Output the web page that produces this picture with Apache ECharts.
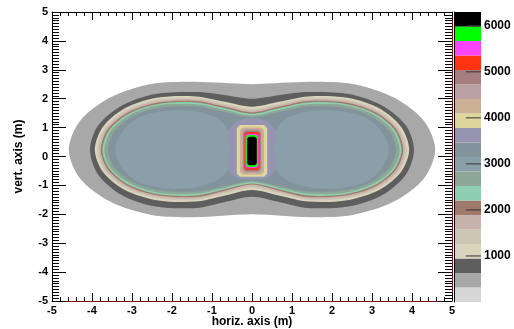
<!DOCTYPE html>
<html>
<head>
<meta charset="utf-8">
<script src="https://cdn.jsdelivr.net/npm/echarts@6/dist/echarts.min.js"></script>
<style>
  html, body { margin: 0; padding: 0; background: #fff; }
  #chart { width: 514px; height: 329px; }
</style>
</head>
<body>
<div id="chart"></div>
<script>
// contour levels (z) and palette colours, lowest first
const levels = [0, 315, 630, 945, 1260, 1575, 1890, 2205, 2520, 2835, 3150,
  3465, 3780, 4095, 4410, 4725, 5040, 5355, 5670, 5985, 6300]
const paletteColors = ['#d6d6d6', '#a8a8a8', '#5e5e5e', '#d9d4bb', '#cdc6b5', '#c7b3ab',
  '#9f7a6b', '#8dcfb0', '#8da797', '#8a9fa9', '#82939b', '#9595b2', '#ddd79d', '#cbb094',
  '#baa1a4', '#a77e7f', '#ff3311', '#ff44ff', '#00ff00', '#000000']
const barTicks = [1000, 2000, 3000, 4000, 5000, 6000]

// contour outlines, [x, y] in metres
const ringGray = [[-4.58,0.23],[-4.3,1.23],[-3.55,2.04],[-2.52,2.51],[-1.5,2.59],[-0.75,2.55],[0,2.5],[0.75,2.55],[1.5,2.59],[2.52,2.51],[3.55,2.04],[4.3,1.23],[4.58,0.23],[4.3,-0.76],[3.55,-1.56],[2.52,-2.02],[1.5,-2.1],[0.75,-2.05],[0,-2.0],[-0.75,-2.05],[-1.5,-2.1],[-2.52,-2.02],[-3.55,-1.56],[-4.3,-0.76]]
const ringDark = [[-4.05,0.23],[-3.85,1.07],[-3.26,1.76],[-2.42,2.16],[-1.4,2.23],[-0.7,2.13],[0,2.0],[0.7,2.13],[1.4,2.23],[2.42,2.16],[3.26,1.76],[3.85,1.07],[4.05,0.23],[3.85,-0.62],[3.26,-1.33],[2.42,-1.73],[1.4,-1.78],[0.7,-1.58],[0,-1.39],[-0.7,-1.58],[-1.4,-1.78],[-2.42,-1.73],[-3.26,-1.33],[-3.85,-0.62]]
const ringBeige = [[-3.93,0.23],[-3.73,1.02],[-3.19,1.66],[-2.39,2.03],[-1.4,2.08],[-0.7,1.9],[0,1.72],[0.7,1.9],[1.4,2.08],[2.39,2.03],[3.19,1.66],[3.73,1.02],[3.93,0.23],[3.73,-0.53],[3.19,-1.15],[2.39,-1.51],[1.4,-1.56],[0.7,-1.36],[0,-1.16],[-0.7,-1.36],[-1.4,-1.56],[-2.39,-1.51],[-3.19,-1.15],[-3.73,-0.53]]
const ringLightBeige = [[-3.87,0.23],[-3.68,0.99],[-3.15,1.61],[-2.37,1.97],[-1.4,2.02],[-0.7,1.83],[0,1.64],[0.7,1.83],[1.4,2.02],[2.37,1.97],[3.15,1.61],[3.68,0.99],[3.87,0.23],[3.68,-0.51],[3.15,-1.1],[2.37,-1.45],[1.4,-1.5],[0.7,-1.29],[0,-1.08],[-0.7,-1.29],[-1.4,-1.5],[-2.37,-1.45],[-3.15,-1.1],[-3.68,-0.51]]
const ringPink = [[-3.82,0.23],[-3.64,0.97],[-3.12,1.57],[-2.36,1.92],[-1.4,1.97],[-0.7,1.78],[0,1.58],[0.7,1.78],[1.4,1.97],[2.36,1.92],[3.12,1.57],[3.64,0.97],[3.82,0.23],[3.64,-0.49],[3.12,-1.07],[2.36,-1.4],[1.4,-1.45],[0.7,-1.24],[0,-1.02],[-0.7,-1.24],[-1.4,-1.45],[-2.36,-1.4],[-3.12,-1.07],[-3.64,-0.49]]
const ringBrown = [[-3.78,0.23],[-3.6,0.95],[-3.09,1.53],[-2.35,1.87],[-1.4,1.92],[-0.7,1.73],[0,1.53],[0.7,1.73],[1.4,1.92],[2.35,1.87],[3.09,1.53],[3.6,0.95],[3.78,0.23],[3.6,-0.46],[3.09,-1.03],[2.35,-1.35],[1.4,-1.4],[0.7,-1.19],[0,-0.97],[-0.7,-1.19],[-1.4,-1.4],[-2.35,-1.35],[-3.09,-1.03],[-3.6,-0.46]]
const ringMint = [[-3.74,0.23],[-3.56,0.93],[-3.07,1.49],[-2.34,1.82],[-1.4,1.87],[-0.7,1.68],[0,1.48],[0.7,1.68],[1.4,1.87],[2.34,1.82],[3.07,1.49],[3.56,0.93],[3.74,0.23],[3.56,-0.44],[3.07,-0.99],[2.34,-1.31],[1.4,-1.35],[0.7,-1.14],[0,-0.93],[-0.7,-1.14],[-1.4,-1.35],[-2.34,-1.31],[-3.07,-0.99],[-3.56,-0.44]]
const ringGreenGray = [[-3.69,0.23],[-3.52,0.9],[-3.03,1.45],[-2.33,1.77],[-1.4,1.81],[-0.7,1.62],[0,1.42],[0.7,1.62],[1.4,1.81],[2.33,1.77],[3.03,1.45],[3.52,0.9],[3.69,0.23],[3.52,-0.42],[3.03,-0.94],[2.33,-1.25],[1.4,-1.29],[0.7,-1.09],[0,-0.88],[-0.7,-1.09],[-1.4,-1.29],[-2.33,-1.25],[-3.03,-0.94],[-3.52,-0.42]]
const ringSlate = [[-3.6,0.23],[-3.44,0.87],[-2.98,1.39],[-2.3,1.69],[-1.4,1.73],[-0.7,1.55],[0,1.36],[0.7,1.55],[1.4,1.73],[2.3,1.69],[2.98,1.39],[3.44,0.87],[3.6,0.23],[3.44,-0.38],[2.98,-0.88],[2.3,-1.17],[1.4,-1.21],[0.7,-1.03],[0,-0.84],[-0.7,-1.03],[-1.4,-1.21],[-2.3,-1.17],[-2.98,-0.88],[-3.44,-0.38]]
const lobeLeft = [[-3.42,0.23],[-3.25,0.85],[-2.85,1.33],[-2.2,1.58],[-1.4,1.56],[-0.85,1.3],[-0.55,0.8],[-0.5,0.23],[-0.55,-0.35],[-0.85,-0.8],[-1.4,-1.06],[-2.2,-1.1],[-2.85,-0.88],[-3.25,-0.4]]
const lobeRight = [[3.42,0.23],[3.25,0.85],[2.85,1.33],[2.2,1.58],[1.4,1.56],[0.85,1.3],[0.55,0.8],[0.5,0.23],[0.55,-0.35],[0.85,-0.8],[1.4,-1.06],[2.2,-1.1],[2.85,-0.88],[3.25,-0.4]]
const neckLavender = [[0,1.34],[0.45,1.15],[0.62,0.75],[0.55,0.23],[0.6,-0.3],[0.45,-0.68],[0,-0.8],[-0.45,-0.68],[-0.6,-0.3],[-0.55,0.23],[-0.62,0.75],[-0.45,1.15]]
const peakYellow = [[-0.3,1.09],[0.3,1.09],[0.38,0.99],[0.38,-0.6],[0.3,-0.7],[-0.3,-0.7],[-0.38,-0.6],[-0.38,0.99]]
const peakTan = [[-0.23,1.0],[0.23,1.0],[0.3,0.91],[0.3,-0.53],[0.23,-0.62],[-0.23,-0.62],[-0.3,-0.53],[-0.3,0.91]]
const peakPinkGray = [[-0.19,0.95],[0.19,0.95],[0.25,0.87],[0.25,-0.48],[0.19,-0.56],[-0.19,-0.56],[-0.25,-0.48],[-0.25,0.87]]
const peakMauve = [[-0.16,0.9],[0.16,0.9],[0.22,0.83],[0.22,-0.45],[0.16,-0.52],[-0.16,-0.52],[-0.22,-0.45],[-0.22,0.83]]
const peakRed = [[-0.13,0.85],[0.13,0.85],[0.19,0.78],[0.19,-0.4],[0.13,-0.47],[-0.13,-0.47],[-0.19,-0.4],[-0.19,0.78]]
const peakMagenta = [[-0.11,0.79],[0.11,0.79],[0.165,0.73],[0.165,-0.35],[0.11,-0.41],[-0.11,-0.41],[-0.165,-0.35],[-0.165,0.73]]
const peakGreen = [[-0.09,0.74],[0.09,0.74],[0.145,0.68],[0.145,-0.3],[0.09,-0.36],[-0.09,-0.36],[-0.145,-0.3],[-0.145,0.68]]
const peakBlack = [[-0.07,0.68],[0.07,0.68],[0.12,0.62],[0.12,-0.24],[0.07,-0.3],[-0.07,-0.3],[-0.12,-0.24],[-0.12,0.62]]

// drawing order, band = index into paletteColors
const contours = [
  {band: 1, pts: ringGray, smooth: 0.3},
  {band: 2, pts: ringDark, smooth: 0.3},
  {band: 3, pts: ringBeige, smooth: 0.3},
  {band: 4, pts: ringLightBeige, smooth: 0.3},
  {band: 5, pts: ringPink, smooth: 0.3},
  {band: 6, pts: ringBrown, smooth: 0.3},
  {band: 7, pts: ringMint, smooth: 0.3},
  {band: 8, pts: ringGreenGray, smooth: 0.3},
  {band: 10, pts: ringSlate, smooth: 0.3},
  {band: 9, pts: lobeLeft, smooth: 0.3},
  {band: 9, pts: lobeRight, smooth: 0.3},
  {band: 11, pts: neckLavender, smooth: 0.3},
  {band: 12, pts: peakYellow, smooth: 0},
  {band: 13, pts: peakTan, smooth: 0},
  {band: 14, pts: peakPinkGray, smooth: 0},
  {band: 15, pts: peakMauve, smooth: 0},
  {band: 16, pts: peakRed, smooth: 0},
  {band: 17, pts: peakMagenta, smooth: 0},
  {band: 18, pts: peakGreen, smooth: 0},
  {band: 19, pts: peakBlack, smooth: 0}
]

const font = 'Liberation Sans, Arial, Helvetica, sans-serif'
const frameRed = '#7a1414'
const labelStyle = {color: '#000', fontFamily: font, fontWeight: 'bold', fontSize: 11}

const myChart = echarts.init(document.getElementById('chart'), null, {renderer: 'canvas'})

const options = {
  animation: false,
  backgroundColor: '#fff',
  grid: [
    {left: 52, top: 12, width: 400, height: 289, outerBoundsMode: 'none', containLabel: false},
    {left: 454, top: 12, width: 27, height: 290, outerBoundsMode: 'none', containLabel: false}
  ],
  xAxis: [
    {
      type: 'value', gridIndex: 0, min: -5, max: 5, interval: 1, position: 'bottom', z: 5,
      axisLine: {onZero: false, lineStyle: {color: frameRed, width: 1}},
      axisTick: {inside: true, length: 8, lineStyle: {color: '#000'}},
      minorTick: {show: true, splitNumber: 5, length: 4, lineStyle: {color: '#000'}},
      splitLine: {show: false},
      axisLabel: {...labelStyle, margin: 4},
      name: 'horiz. axis (m)', nameLocation: 'middle', nameGap: 15, nameMoveOverlap: false,
      nameTextStyle: {...labelStyle, fontSize: 12}
    },
    {
      type: 'value', gridIndex: 0, min: -5, max: 5, interval: 1, position: 'top', z: 5,
      axisLine: {onZero: false, lineStyle: {color: '#000', width: 1}},
      axisTick: {inside: true, length: 8, lineStyle: {color: '#000'}},
      minorTick: {show: true, splitNumber: 5, length: 4, lineStyle: {color: '#000'}},
      splitLine: {show: false},
      axisLabel: {show: false}
    },
    {type: 'value', gridIndex: 1, min: 0, max: 1, show: false}
  ],
  yAxis: [
    {
      type: 'value', gridIndex: 0, min: -5, max: 5, interval: 1, position: 'left', z: 5,
      axisLine: {onZero: false, lineStyle: {color: '#000', width: 1}},
      axisTick: {inside: true, length: 14, lineStyle: {color: '#000'}},
      minorTick: {show: true, splitNumber: 10, length: 7, lineStyle: {color: '#000'}},
      splitLine: {show: false},
      axisLabel: {...labelStyle, margin: 4},
      name: 'vert. axis (m)', nameLocation: 'middle', nameGap: 27, nameMoveOverlap: false,
      nameTextStyle: {...labelStyle, fontSize: 12}
    },
    {
      type: 'value', gridIndex: 0, min: -5, max: 5, interval: 1, position: 'right', z: 5,
      axisLine: {onZero: false, lineStyle: {color: frameRed, width: 1}},
      axisTick: {inside: true, length: 14, lineStyle: {color: '#000'}},
      minorTick: {show: true, splitNumber: 10, length: 7, lineStyle: {color: '#000'}},
      splitLine: {show: false},
      axisLabel: {show: false}
    },
    {
      type: 'value', gridIndex: 1, min: levels[0], max: levels[levels.length - 1], interval: 1000,
      position: 'right', z: 5,
      axisLine: {show: true, lineStyle: {color: '#000', width: 1}},
      axisTick: {show: false},
      splitLine: {show: false},
      axisLabel: {...labelStyle, fontSize: 12, margin: 3, showMinLabel: false, showMaxLabel: false,
        formatter: v => (barTicks.includes(v) ? String(v) : '')}
    }
  ],
  series: [
    {
      type: 'custom',
      xAxisIndex: 0,
      yAxisIndex: 0,
      clip: true,
      data: contours.map(() => [0, 0]),
      renderItem: (params, api) => {
        const c = contours[params.dataIndex]
        return {
          type: 'polygon',
          shape: {points: c.pts.map(p => api.coord(p)), smooth: c.smooth},
          style: {fill: paletteColors[c.band], stroke: null}
        }
      }
    },
    {
      // palette boxes
      type: 'custom',
      xAxisIndex: 2,
      yAxisIndex: 2,
      data: paletteColors.map((c, i) => [0.5, levels[i]]),
      renderItem: (params, api) => {
        const i = params.dataIndex
        const lo = api.coord([0, levels[i]])
        const hi = api.coord([1, levels[i + 1]])
        return {
          type: 'rect',
          shape: {x: lo[0], y: hi[1], width: hi[0] - lo[0], height: lo[1] - hi[1]},
          style: {fill: paletteColors[i], stroke: null}
        }
      }
    },
    {
      // palette tick marks, drawn over the boxes
      type: 'custom',
      xAxisIndex: 2,
      yAxisIndex: 2,
      z: 4,
      data: barTicks.map(v => [0.5, v]),
      renderItem: (params, api) => {
        const v = barTicks[params.dataIndex]
        const a = api.coord([0.44, v])
        const b = api.coord([1, v])
        return {
          type: 'line',
          shape: {x1: a[0], y1: a[1], x2: b[0], y2: b[1]},
          style: {stroke: '#333', lineWidth: 1}
        }
      }
    }
  ]
}

myChart.setOption(options)
window.addEventListener('resize', () => {
  myChart.resize()
})
</script>
</body>
</html>
